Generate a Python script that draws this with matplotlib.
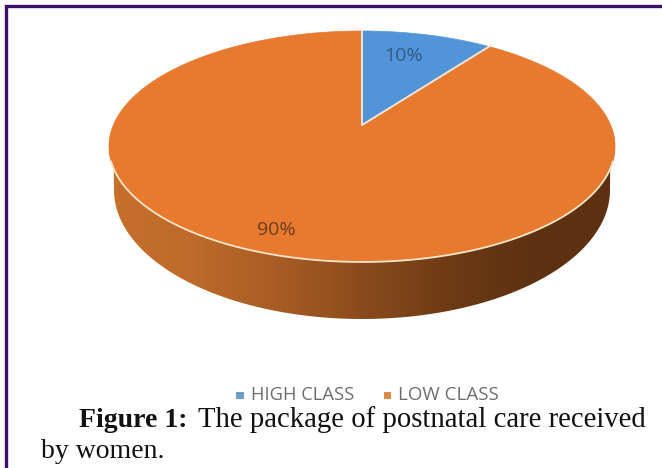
import numpy as np
import matplotlib
matplotlib.use('Agg')
import matplotlib.pyplot as plt
from matplotlib.patches import Polygon, Rectangle
from matplotlib.colors import LinearSegmentedColormap

labels = ['HIGH CLASS', 'LOW CLASS']
values = [10, 90]
value_text = ['10%', '90%']
colors = ['#5195d8', '#e87a30']
caption_bold = 'Figure 1:'
caption_1 = 'The package of postnatal care received'
caption_2 = 'by women.'

CX, CY = 362, 125   # where the slices meet, pixels
SX, SY = 248.6, 111.5
K = 0.186           # perspective


def project(xy):
    # unit disc -> tilted pie top in pixel coordinates
    w = 1 + K * xy[:, 1]
    return np.column_stack([CX + SX * xy[:, 0] / w, CY - SY * xy[:, 1] / w])


def disc_edge(t1, t2, n=200):
    t = np.radians(np.linspace(t1, t2, n))
    return np.column_stack([np.cos(t), np.sin(t)])


fig = plt.figure(figsize=[6.62, 4.68], dpi=100)
ax = fig.add_axes([0, 0, 1, 1])

wedges, _ = ax.pie(values, colors=colors, startangle=90, counterclock=False)
ax.set_aspect('auto')
ax.axis('off')

# side wall, with the shading running left to right
t = np.radians(np.linspace(180, 360, 200))
low = project(disc_edge(180, 360))
floor = np.column_stack([CX + 248 * np.cos(t), 190 - 129 * np.sin(t)])
wall = Polygon(np.vstack([low, floor[::-1]]), closed=True, fc='none', ec='none')
ax.add_patch(wall)
cmap = LinearSegmentedColormap.from_list(
    'wall', ['#c8702c', '#bd6a2a', '#a85c24', '#8a4b1c', '#6e3b15', '#5e3111', '#5c3012'])
img = ax.imshow(np.linspace(0, 1, 256)[None, :], cmap=cmap, extent=[109, 616, 330, 130],
                aspect='auto', zorder=1)
img.set_clip_path(wall)
ax.set_xlim(0, 662)
ax.set_ylim(468, 0)

# top face, slices come from the pie
for w, c in zip(wedges, colors):
    th = (w.theta1, w.theta2)
    w.remove()
    pts = np.vstack([[[0, 0]], disc_edge(th[0], th[1])])
    ax.add_patch(Polygon(project(pts), closed=True, fc=c, ec=c, lw=0.5, zorder=2))
    ax.plot(*project(np.vstack([[[0, 0]], disc_edge(th[0], th[0], 2)])).T,
            color='#f0e4d8', lw=1.4, zorder=3)
ax.plot(*project(disc_edge(198, 342)).T, color='#f9e6c8', lw=1.3, zorder=3)

ax.text(404, 56, value_text[0], family='Open Sans', fontsize=14, color='#2f5c8a',
        ha='center', va='center', zorder=4)
ax.text(276, 230, value_text[1], family='Open Sans', fontsize=14, color='#6b3d1f',
        ha='center', va='center', zorder=4)

# legend
ax.add_patch(Rectangle((236, 392), 8, 7, fc='#6a9cc8', ec='none'))
ax.add_patch(Rectangle((384, 392), 7, 7, fc='#d98a45', ec='none'))
ax.text(251, 395, labels[0], family='Open Sans', fontsize=13.2, color='#6e6e6e', va='center')
ax.text(398, 395, labels[1], family='Open Sans', fontsize=13.5, color='#6e6e6e', va='center')

# caption
ax.text(79, 427, caption_bold, family='Liberation Serif', weight='bold', fontsize=20,
        color='#111111', va='baseline')
ax.text(198, 427, caption_1, family='Liberation Serif', fontsize=20.7, color='#111111', va='baseline')
ax.text(41, 458, caption_2, family='Liberation Serif', fontsize=20, color='#111111', va='baseline')

# page frame
ax.plot([6, 6, 662], [468, 5.5, 5.5], color='#3b1068', lw=2.4, solid_joinstyle='miter')

fig.savefig('out.png', dpi=100)
